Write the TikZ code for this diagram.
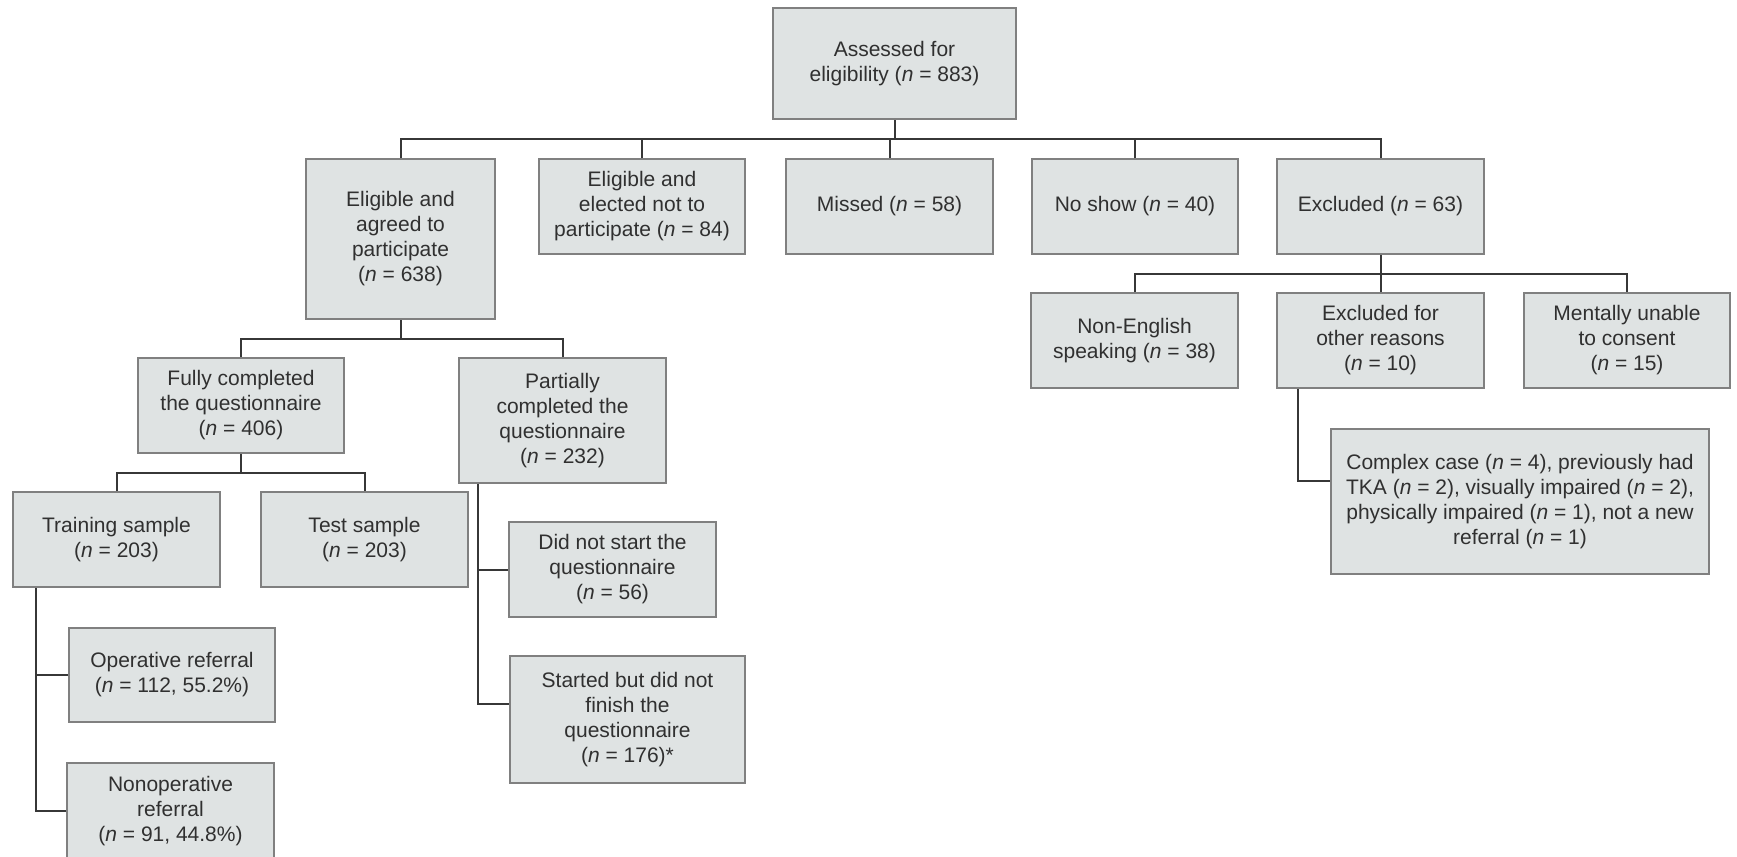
\documentclass[tikz,border=0pt]{standalone}
\usepackage{fontspec}
\setmainfont{Liberation Sans}
\usetikzlibrary{positioning}

\definecolor{boxfill}{RGB}{223,227,227}
\definecolor{boxline}{RGB}{128,128,128}
\definecolor{wirecol}{RGB}{55,55,55}
\definecolor{ink}{RGB}{48,48,48}

\begin{document}
\begin{tikzpicture}[x=0.5pt,y=-0.5pt,
    box/.style={draw=boxline,fill=boxfill,line width=1pt,text=ink,align=center,
      inner sep=0pt,font=\fontsize{10.5}{12.5}\selectfont},
    boxsize/.style 2 args={minimum width=#1*0.5pt,minimum height=#2*0.5pt},
    wire/.style={draw=wirecol,line width=1pt}]

    \useasboundingbox (0,0) rectangle (1737,857); %page size

    % top and first row
    \node[box,boxsize={243}{111}] (assess) at (894.5,63.5) {Assessed for\\eligibility (\textit{n} = 883)};
    \node[box,boxsize={189}{160}] (agreed) at (400.5,239) {Eligible and\\agreed to\\participate\\(\textit{n} = 638)};
    \node[box,boxsize={206}{95}] (notpart) at (642,206.5) {Eligible and\\elected not to\\participate (\textit{n} = 84)};
    \node[box,boxsize={207}{95}] (missed) at (889.5,206.5) {Missed (\textit{n} = 58)};
    \node[box,boxsize={206}{95}] (noshow) at (1135,206.5) {No show (\textit{n} = 40)};
    \node[box,boxsize={207}{95}] (excl) at (1380.5,206.5) {Excluded (\textit{n} = 63)};

    % excluded branch
    \node[box,boxsize={207}{95}] (noneng) at (1134.5,340.5) {Non-English\\speaking (\textit{n} = 38)};
    \node[box,boxsize={207}{95}] (other) at (1380.5,340.5) {Excluded for\\other reasons\\(\textit{n} = 10)};
    \node[box,boxsize={206}{95}] (mental) at (1627,340.5) {Mentally unable\\to consent\\(\textit{n} = 15)};
    \node[box,boxsize={378}{145}] (complex) at (1520,501.5) {Complex case (\textit{n} = 4), previously had\\TKA (\textit{n} = 2), visually impaired (\textit{n} = 2),\\physically impaired (\textit{n} = 1), not a new\\referral (\textit{n} = 1)};

    % participants branch
    \node[box,boxsize={206}{95}] (fully) at (241,405.5) {Fully completed\\the questionnaire\\(\textit{n} = 406)};
    \node[box,boxsize={207}{125}] (partial) at (562.5,420.5) {Partially\\completed the\\questionnaire\\(\textit{n} = 232)};
    \node[box,boxsize={207}{95}] (training) at (116.5,539.5) {Training sample\\(\textit{n} = 203)};
    \node[box,boxsize={207}{95}] (test) at (364.5,539.5) {Test sample\\(\textit{n} = 203)};
    \node[box,boxsize={207}{95}] (didnot) at (612.5,569.5) {Did not start the\\questionnaire\\(\textit{n} = 56)};
    \node[box,boxsize={235}{127}] (started) at (627.5,719.5) {Started but did not\\finish the\\questionnaire\\(\textit{n} = 176)*};
    \node[box,boxsize={206}{94}] (operative) at (172,675) {Operative referral\\(\textit{n} = 112, 55.2\%)};
    \node[box,boxsize={207}{96}] (nonop) at (170.5,811) {Nonoperative\\referral\\(\textit{n} = 91, 44.8\%)};

    % bus lines
    \coordinate (busA) at (0,139);
    \coordinate (busB) at (0,339);
    \coordinate (busC) at (0,473);
    \coordinate (busD) at (0,274);

    \draw[wire] (assess.south) -- (assess.south |- busA);
    \draw[wire] (agreed.north) |- (busA -| excl.north) -- (excl.north);
    \foreach \b in {notpart,missed,noshow}
      \draw[wire] (\b.north) -- (\b.north |- busA);

    \draw[wire] (agreed.south) -- (agreed.south |- busB);
    \draw[wire] (fully.north) |- (busB -| partial.north) -- (partial.north);

    \draw[wire] (fully.south) -- (fully.south |- busC);
    \draw[wire] (training.north) |- (busC -| test.north) -- (test.north);

    \draw[wire] (excl.south) -- (other.north);
    \draw[wire] (noneng.north) |- (busD -| mental.north) -- (mental.north);

    % side taps
    \draw[wire] ([xshift=12pt]training.south west) |- (nonop.west);
    \draw[wire] (operative.west) -| ([xshift=12pt]training.south west);
    \draw[wire] ([xshift=10pt]partial.south west) |- ([yshift=7.75pt]started.west);
    \draw[wire] (didnot.west) -| ([xshift=10pt]partial.south west);
    \draw[wire] ([xshift=11pt]other.south west) |- ([yshift=10.25pt]complex.west);

\end{tikzpicture}
\end{document}
